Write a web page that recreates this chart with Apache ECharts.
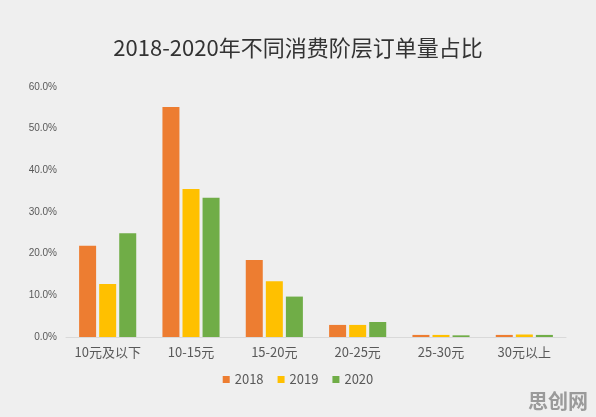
<!DOCTYPE html>
<html>
<head>
<meta charset="utf-8">
<script src="https://cdn.jsdelivr.net/npm/echarts@6/dist/echarts.min.js"></script>
<style>
  html, body { margin: 0; padding: 0; background: #efefef; }
  #main { width: 596px; height: 417px; }
</style>
</head>
<body>
<div id="main"></div>
<script>
// 消费阶层
const categories = ['10元及以下', '10-15元', '15-20元', '20-25元', '25-30元', '30元以上']
const years = ['2018', '2019', '2020']
// 订单量占比 (%)
const data2018 = [21.9, 55.2, 18.5, 2.9, 0.5, 0.5]
const data2019 = [12.7, 35.5, 13.4, 2.9, 0.5, 0.6]
const data2020 = [24.9, 33.4, 9.7, 3.6, 0.4, 0.5]
const colors = ['#ED7D31', '#FFC000', '#70AD47']

let myChart = echarts.init(document.getElementById('main'))
myChart.setOption({
  backgroundColor: '#efefef',
  color: colors,
  title: {
    text: '2018-2020年不同消费阶层订单量占比',
    left: 'center',
    top: 32,
    textStyle: {
      fontFamily: 'Noto Sans CJK SC',
      fontSize: 22,
      fontWeight: 'normal',
      color: '#333'
    }
  },
  legend: {
    data: years,
    bottom: 26,
    left: 'center',
    icon: 'rect',
    itemWidth: 7,
    itemHeight: 7,
    itemGap: 14,
    textStyle: { fontSize: 13, color: '#595959', fontFamily: 'Noto Sans CJK SC' }
  },
  grid: {
    left: 66,
    right: 30,
    top: 87,
    bottom: 80
  },
  xAxis: {
    type: 'category',
    data: categories,
    axisLine: { lineStyle: { color: '#d9d9d9' } },
    axisTick: { show: false },
    axisLabel: { interval: 0, fontSize: 13, color: '#595959', margin: 9, fontFamily: 'Noto Sans CJK SC' }
  },
  yAxis: {
    type: 'value',
    min: 0,
    max: 60,
    interval: 10,
    splitLine: { show: false },
    axisLine: { show: false },
    axisLabel: {
      fontSize: 10,
      color: '#595959',
      margin: 9,
      formatter: v => v.toFixed(1) + '%'
    }
  },
  series: [
    { name: '2018', type: 'bar', data: data2018, barWidth: 17, barGap: '18%' },
    { name: '2019', type: 'bar', data: data2019, barWidth: 17, barGap: '18%' },
    { name: '2020', type: 'bar', data: data2020, barWidth: 17, barGap: '18%' }
  ],
  graphic: [{
    type: 'text',
    right: 8,
    bottom: 6,
    style: {
      text: '思创网',
      fontSize: 20,
      fontWeight: 'bold',
      fill: '#9a9a9a',
      fontFamily: 'Noto Sans CJK SC'
    }
  }]
})
</script>
</body>
</html>
